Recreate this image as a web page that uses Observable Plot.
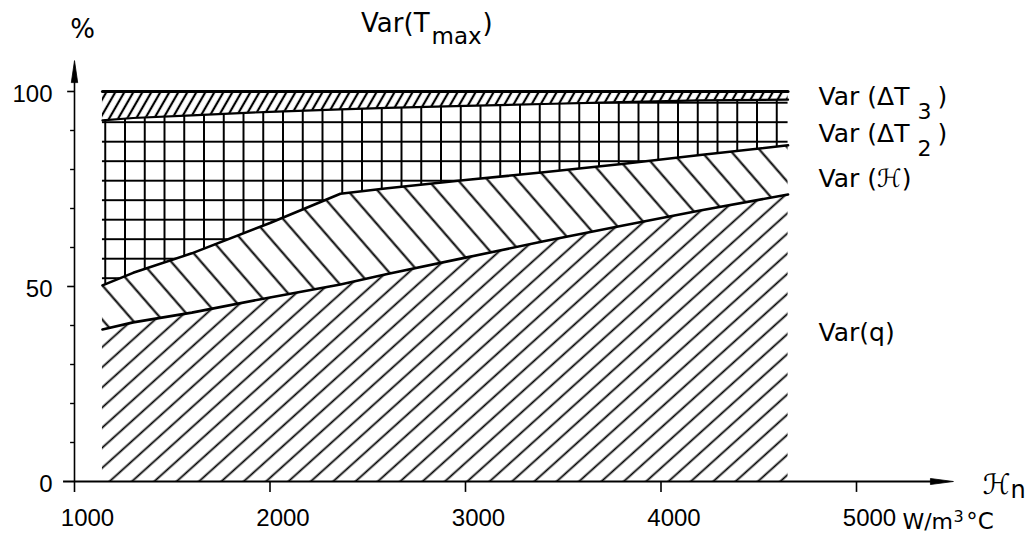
<!DOCTYPE html>
<html><head><meta charset="utf-8">
<script src="https://cdn.jsdelivr.net/npm/d3@7"></script>
<script src="https://cdn.jsdelivr.net/npm/@observablehq/plot@0.6"></script>
<style>
html,body{margin:0;padding:0;background:#fff;}
#chart svg{display:block;}
</style></head><body><div id="chart"></div>
<script>
// ---- data (x in W/m^3°C, y in %) ----
const xs      = [1143, 1300, 1600, 2000, 2360, 2600, 3000, 3400, 3800, 4200, 4650];
const topQ    = [39.0, 40.8, 43.3, 47.2, 50.5, 53.2, 57.4, 61.6, 65.6, 69.5, 73.6]; // upper edge of Var(q)
const topH    = [50.3, 53.5, 58.5, 66.3, 73.8, 75.2, 77.3, 79.3, 81.4, 83.7, 86.2]; // upper edge of Var(ℋ)
const topDT   = [92.6, 93.2, 93.9, 94.8, 95.4, 95.8, 96.3, 96.8, 97.3, 97.7, 97.9]; // upper edge of Var(ΔT2)+Var(ΔT3)
const topAll  = [100, 100, 100, 100, 100, 100, 100, 100, 100, 100, 100];             // upper edge of Var(Tmax)
const xTicks  = [1000, 2000, 3000, 4000, 5000];
const yTicks  = [10, 20, 30, 40, 50, 60, 70, 80, 90, 100];
const yLabels = [0, 50, 100];

const rows = xs.map((x, i) => ({x, q: topQ[i], h: topH[i], dt: topDT[i], all: topAll[i]}));
const F = "DejaVu Sans, sans-serif";
const N = "Liberation Sans, Arial, sans-serif";

const arrowUp = {draw(c) { c.moveTo(0, -11); c.lineTo(3.2, 11); c.lineTo(-3.2, 11); c.closePath(); }};
const arrowRight = {draw(c) { c.moveTo(11.5, 0); c.lineTo(-11.5, 3); c.lineTo(-11.5, -3); c.closePath(); }};

const chart = Plot.plot({
  width: 1032, height: 533,
  marginLeft: 74, marginRight: 176, marginTop: 91, marginBottom: 52,
  x: {domain: [1000, 5000], axis: null},
  y: {domain: [0, 100], axis: null},
  style: {background: "white", color: "black"},
  marks: [
    Plot.area(rows, {x1: "x", y1: 0, y2: "q", fill: "url(#hatchQ)"}),
    Plot.area(rows, {x1: "x", y1: "q", y2: "h", fill: "url(#hatchH)"}),
    Plot.area(rows, {x1: "x", y1: "h", y2: "dt", fill: "url(#grid)"}),
    Plot.area(rows, {x1: "x", y1: "dt", y2: "all", fill: "url(#hatchT)"}),
    Plot.line(rows, {x: "x", y: "q", stroke: "black", strokeWidth: 2.6}),
    Plot.line(rows, {x: "x", y: "h", stroke: "black", strokeWidth: 2.6}),
    Plot.line(rows, {x: "x", y: "dt", stroke: "black", strokeWidth: 2.2}),
    Plot.line(rows, {x: "x", y: "all", stroke: "black", strokeWidth: 3}),
    // axes
    Plot.ruleY([0], {x1: 944, x2: 5400, stroke: "black", strokeWidth: 2}),
    Plot.ruleX([1000], {y1: -2.8, y2: 103, stroke: "black", strokeWidth: 1.6}),
    Plot.ruleY(yTicks.filter(d => d % 50), {x1: 980, x2: 1000, stroke: "black", strokeWidth: 1.4}),
    Plot.ruleY(yTicks.filter(d => d % 50 === 0), {x1: 965, x2: 1000, stroke: "black", strokeWidth: 1.6}),
    Plot.ruleX(xTicks.slice(1), {y1: 0, y2: -2.8, stroke: "black", strokeWidth: 1.6}),
    Plot.dot([0], {x: 1000, y: 105.1, symbol: arrowUp, fill: "black", stroke: "black", strokeWidth: 0.8}),
    Plot.dot([0], {x: 5437, y: 0, symbol: arrowRight, fill: "black", stroke: "black", strokeWidth: 0.8}),
    // tick labels
    Plot.text(yLabels, {x: 1000, y: d => d, text: d => String(d), textAnchor: "end", dx: -22, dy: 3, fontSize: 24, fontFamily: N, fill: "black"}),
    Plot.text(xTicks, {x: d => d, y: 0, text: d => String(d), dx: 13, dy: 37, fontSize: 24, fontFamily: N, fill: "black"}),
    // annotations
    Plot.text(["%"], {x: 1041, y: 115.9, text: d => d, fontSize: 26, fontFamily: F, fill: "black"}),
    Plot.text(["Var(T"], {x: 2816, y: 117.3, text: d => d, textAnchor: "end", fontSize: 26, fontFamily: F, fill: "black"}),
    Plot.text(["max"], {x: 2826, y: 114.0, text: d => d, textAnchor: "start", fontSize: 23, fontFamily: F, fill: "black"}),
    Plot.text([")"], {x: 3087, y: 117.3, text: d => d, textAnchor: "start", fontSize: 26, fontFamily: F, fill: "black"}),
    Plot.text(["Var (ΔT", "Var (ΔT", "Var (ℋ)", "Var(q)"], {x: 4806, y: [98.5, 89.2, 77.6, 38.2], text: d => d, textAnchor: "start", fontSize: 25, fontFamily: F, fill: "black"}),
    Plot.text(["3", "2"], {x: 5312, y: [94.7, 85.3], text: d => d, textAnchor: "start", fontSize: 22, fontFamily: F, fill: "black"}),
    Plot.text([")", ")"], {x: 5414, y: [98.5, 89.2], text: d => d, textAnchor: "start", fontSize: 25, fontFamily: F, fill: "black"}),
    Plot.text(["ℋ"], {x: 5645, y: -0.8, text: d => d, textAnchor: "start", fontSize: 28, fontFamily: F, fill: "black"}),
    Plot.text(["n"], {x: 5788, y: -2.3, text: d => d, textAnchor: "start", fontSize: 24, fontFamily: F, fill: "black"}),
    Plot.text(["W/m"], {x: 5235, y: -10.3, text: d => d, textAnchor: "start", fontSize: 22, fontFamily: F, fill: "black"}),
    Plot.text(["3"], {x: 5496, y: -9.0, text: d => d, textAnchor: "start", fontSize: 16, fontFamily: F, fill: "black"}),
    Plot.text(["°C"], {x: 5562, y: -10.3, text: d => d, textAnchor: "start", fontSize: 23, fontFamily: F, fill: "black"})
  ]
});

// hatch / grid patterns used as fills
const NS = "http://www.w3.org/2000/svg";
function el(name, attrs, parent) {
  const e = document.createElementNS(NS, name);
  for (const k in attrs) e.setAttribute(k, attrs[k]);
  if (parent) parent.appendChild(e);
  return e;
}
const defs = el("defs", {});
function hatch(id, p, angle, ox, oy, sw) {
  const pat = el("pattern", {id, patternUnits: "userSpaceOnUse", width: p, height: 10,
    patternTransform: `translate(${ox},${oy}) rotate(${angle}) translate(${-p / 2},0)`}, defs);
  el("line", {x1: p / 2, y1: -1, x2: p / 2, y2: 11, stroke: "black", "stroke-width": sw}, pat);
}
hatch("hatchQ", 14.96, 48, 110, 481, 1.8);
hatch("hatchH", 22.5, -41, 102, 285, 2);
hatch("hatchT", 7.8, 30, 107, 91, 2.2);
{
  const w = 19.75, h = 19.5;
  const pat = el("pattern", {id: "grid", patternUnits: "userSpaceOnUse", width: w, height: h,
    patternTransform: `translate(${125 - w / 2},${122.2 - h / 2})`}, defs);
  el("line", {x1: w / 2, y1: -1, x2: w / 2, y2: h + 1, stroke: "black", "stroke-width": 2}, pat);
  el("line", {x1: -1, y1: h / 2, x2: w + 1, y2: h / 2, stroke: "black", "stroke-width": 2}, pat);
}
chart.insertBefore(defs, chart.firstChild);
document.getElementById("chart").appendChild(chart);
</script></body></html>
